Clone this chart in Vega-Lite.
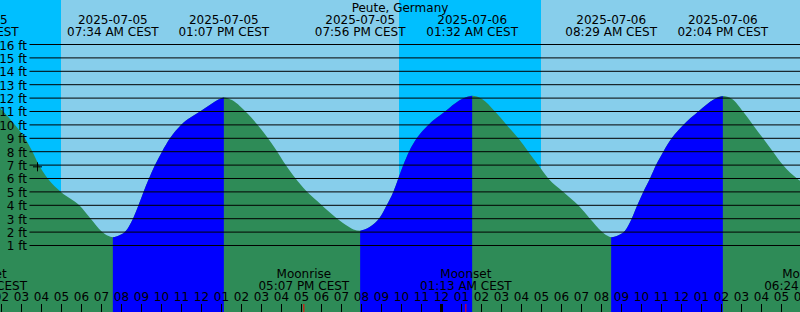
{
  "$schema": "https://vega.github.io/schema/vega-lite/v6.json",
  "width": 800,
  "height": 312,
  "autosize": {"type": "none"},
  "padding": 0,
  "background": "#87CEEB",
  "config": {"view": {"stroke": null}, "text": {"font": "DejaVu Sans", "fontSize": 12, "color": "black"}},
  "datasets": {
    "light": [
      {"start": 1.925, "end": 4.975, "phase": "night"},
      {"start": 4.975, "end": 21.875, "phase": "day"},
      {"start": 21.875, "end": 28.975, "phase": "night"},
      {"start": 28.975, "end": 41.925, "phase": "day"}
    ],
    "tide": [
      {"t": 0.575, "ft": 12.1, "phase": "high", "flood": 0},
      {"t": 1.325, "ft": 11.8, "phase": "falling", "flood": 1},
      {"t": 1.925, "ft": 11.25, "phase": "falling", "flood": 1},
      {"t": 2.09, "ft": 11, "phase": "falling", "flood": 1},
      {"t": 2.675, "ft": 10, "phase": "falling", "flood": 1},
      {"t": 3.175, "ft": 9, "phase": "falling", "flood": 1},
      {"t": 3.51, "ft": 8.1, "phase": "falling", "flood": 1},
      {"t": 3.84, "ft": 7.1, "phase": "falling", "flood": 1},
      {"t": 4.31, "ft": 6, "phase": "falling", "flood": 1},
      {"t": 4.975, "ft": 5, "phase": "falling", "flood": 1},
      {"t": 5.89, "ft": 4, "phase": "falling", "flood": 1},
      {"t": 6.46, "ft": 3, "phase": "falling", "flood": 1},
      {"t": 7.01, "ft": 2.05, "phase": "falling", "flood": 1},
      {"t": 7.325, "ft": 1.72, "phase": "falling", "flood": 1},
      {"t": 7.567, "ft": 1.61, "phase": "low", "flood": 1},
      {"t": 7.925, "ft": 1.78, "phase": "rising", "flood": 1},
      {"t": 8.225, "ft": 2.1, "phase": "rising", "flood": 1},
      {"t": 8.575, "ft": 3, "phase": "rising", "flood": 1},
      {"t": 8.85, "ft": 4, "phase": "rising", "flood": 1},
      {"t": 9.1, "ft": 5, "phase": "rising", "flood": 1},
      {"t": 9.375, "ft": 6, "phase": "rising", "flood": 1},
      {"t": 9.675, "ft": 7, "phase": "rising", "flood": 1},
      {"t": 10.025, "ft": 8, "phase": "rising", "flood": 1},
      {"t": 10.425, "ft": 9, "phase": "rising", "flood": 1},
      {"t": 10.975, "ft": 10, "phase": "rising", "flood": 1},
      {"t": 11.925, "ft": 11, "phase": "rising", "flood": 1},
      {"t": 12.525, "ft": 11.6, "phase": "rising", "flood": 1},
      {"t": 12.825, "ft": 11.88, "phase": "rising", "flood": 1},
      {"t": 13.117, "ft": 12.05, "phase": "high", "flood": 1},
      {"t": 13.525, "ft": 11.85, "phase": "falling", "flood": 2},
      {"t": 13.925, "ft": 11.4, "phase": "falling", "flood": 2},
      {"t": 14.3, "ft": 10.85, "phase": "falling", "flood": 2},
      {"t": 14.775, "ft": 10.05, "phase": "falling", "flood": 2},
      {"t": 15.25, "ft": 9.15, "phase": "falling", "flood": 2},
      {"t": 15.7, "ft": 8.2, "phase": "falling", "flood": 2},
      {"t": 16.1, "ft": 7.25, "phase": "falling", "flood": 2},
      {"t": 16.55, "ft": 6.3, "phase": "falling", "flood": 2},
      {"t": 17.1, "ft": 5.3, "phase": "falling", "flood": 2},
      {"t": 17.8, "ft": 4.3, "phase": "falling", "flood": 2},
      {"t": 18.55, "ft": 3.3, "phase": "falling", "flood": 2},
      {"t": 19.2, "ft": 2.55, "phase": "falling", "flood": 2},
      {"t": 19.6, "ft": 2.2, "phase": "falling", "flood": 2},
      {"t": 19.933, "ft": 2.1, "phase": "low", "flood": 2},
      {"t": 20.425, "ft": 2.4, "phase": "rising", "flood": 2},
      {"t": 20.925, "ft": 3.1, "phase": "rising", "flood": 2},
      {"t": 21.26, "ft": 4, "phase": "rising", "flood": 2},
      {"t": 21.59, "ft": 5, "phase": "rising", "flood": 2},
      {"t": 21.84, "ft": 6, "phase": "rising", "flood": 2},
      {"t": 22.09, "ft": 7, "phase": "rising", "flood": 2},
      {"t": 22.375, "ft": 8, "phase": "rising", "flood": 2},
      {"t": 22.76, "ft": 9, "phase": "rising", "flood": 2},
      {"t": 23.34, "ft": 10, "phase": "rising", "flood": 2},
      {"t": 24.175, "ft": 11, "phase": "rising", "flood": 2},
      {"t": 24.675, "ft": 11.6, "phase": "rising", "flood": 2},
      {"t": 25.09, "ft": 11.98, "phase": "rising", "flood": 2},
      {"t": 25.533, "ft": 12.18, "phase": "high", "flood": 2},
      {"t": 26.01, "ft": 11.95, "phase": "falling", "flood": 3},
      {"t": 26.675, "ft": 11, "phase": "falling", "flood": 3},
      {"t": 27.26, "ft": 10, "phase": "falling", "flood": 3},
      {"t": 27.84, "ft": 9, "phase": "falling", "flood": 3},
      {"t": 28.34, "ft": 8, "phase": "falling", "flood": 3},
      {"t": 28.84, "ft": 7, "phase": "falling", "flood": 3},
      {"t": 29.34, "ft": 6, "phase": "falling", "flood": 3},
      {"t": 30.09, "ft": 5, "phase": "falling", "flood": 3},
      {"t": 30.84, "ft": 4, "phase": "falling", "flood": 3},
      {"t": 31.425, "ft": 3, "phase": "falling", "flood": 3},
      {"t": 32.01, "ft": 2.05, "phase": "falling", "flood": 3},
      {"t": 32.3, "ft": 1.72, "phase": "falling", "flood": 3},
      {"t": 32.483, "ft": 1.61, "phase": "low", "flood": 3},
      {"t": 32.9, "ft": 1.8, "phase": "rising", "flood": 3},
      {"t": 33.175, "ft": 2.1, "phase": "rising", "flood": 3},
      {"t": 33.51, "ft": 3, "phase": "rising", "flood": 3},
      {"t": 33.79, "ft": 4, "phase": "rising", "flood": 3},
      {"t": 34.09, "ft": 5, "phase": "rising", "flood": 3},
      {"t": 34.425, "ft": 6, "phase": "rising", "flood": 3},
      {"t": 34.725, "ft": 7, "phase": "rising", "flood": 3},
      {"t": 35.09, "ft": 8, "phase": "rising", "flood": 3},
      {"t": 35.51, "ft": 9, "phase": "rising", "flood": 3},
      {"t": 36.09, "ft": 10, "phase": "rising", "flood": 3},
      {"t": 36.84, "ft": 11, "phase": "rising", "flood": 3},
      {"t": 37.275, "ft": 11.55, "phase": "rising", "flood": 3},
      {"t": 37.59, "ft": 11.88, "phase": "rising", "flood": 3},
      {"t": 38.067, "ft": 12.15, "phase": "high", "flood": 3},
      {"t": 38.51, "ft": 11.95, "phase": "falling", "flood": 4},
      {"t": 39.075, "ft": 11, "phase": "falling", "flood": 4},
      {"t": 39.575, "ft": 10, "phase": "falling", "flood": 4},
      {"t": 40.075, "ft": 9, "phase": "falling", "flood": 4},
      {"t": 40.575, "ft": 8, "phase": "falling", "flood": 4},
      {"t": 41.075, "ft": 7, "phase": "falling", "flood": 4},
      {"t": 41.775, "ft": 6, "phase": "falling", "flood": 4},
      {"t": 42.425, "ft": 5.4, "phase": "falling", "flood": 4}
    ],
    "levels": [
      {"ft": 1, "label": "1 ft"}, {"ft": 2, "label": "2 ft"}, {"ft": 3, "label": "3 ft"}, {"ft": 4, "label": "4 ft"},
      {"ft": 5, "label": "5 ft"}, {"ft": 6, "label": "6 ft"}, {"ft": 7, "label": "7 ft"}, {"ft": 8, "label": "8 ft"},
      {"ft": 9, "label": "9 ft"}, {"ft": 10, "label": "10 ft"}, {"ft": 11, "label": "11 ft"}, {"ft": 12, "label": "12 ft"},
      {"ft": 13, "label": "13 ft"}, {"ft": 14, "label": "14 ft"}, {"ft": 15, "label": "15 ft"}, {"ft": 16, "label": "16 ft"}
    ],
    "hours": [
      {"t": 2, "label": "02"}, {"t": 3, "label": "03"}, {"t": 4, "label": "04"}, {"t": 5, "label": "05"},
      {"t": 6, "label": "06"}, {"t": 7, "label": "07"}, {"t": 8, "label": "08"}, {"t": 9, "label": "09"},
      {"t": 10, "label": "10"}, {"t": 11, "label": "11"}, {"t": 12, "label": "12"}, {"t": 13, "label": "01"},
      {"t": 14, "label": "02"}, {"t": 15, "label": "03"}, {"t": 16, "label": "04"}, {"t": 17, "label": "05"},
      {"t": 18, "label": "06"}, {"t": 19, "label": "07"}, {"t": 20, "label": "08"}, {"t": 21, "label": "09"},
      {"t": 22, "label": "10"}, {"t": 23, "label": "11"}, {"t": 24, "label": "12"}, {"t": 25, "label": "01"},
      {"t": 26, "label": "02"}, {"t": 27, "label": "03"}, {"t": 28, "label": "04"}, {"t": 29, "label": "05"},
      {"t": 30, "label": "06"}, {"t": 31, "label": "07"}, {"t": 32, "label": "08"}, {"t": 33, "label": "09"},
      {"t": 34, "label": "10"}, {"t": 35, "label": "11"}, {"t": 36, "label": "12"}, {"t": 37, "label": "01"},
      {"t": 38, "label": "02"}, {"t": 39, "label": "03"}, {"t": 40, "label": "04"}, {"t": 41, "label": "05"},
      {"t": 42, "label": "06"}
    ],
    "extremes": [
      {"t": 0.567, "label": "2025-07-05\n12:34 AM CEST"},
      {"t": 7.567, "label": "2025-07-05\n07:34 AM CEST"},
      {"t": 13.117, "label": "2025-07-05\n01:07 PM CEST"},
      {"t": 19.933, "label": "2025-07-05\n07:56 PM CEST"},
      {"t": 25.533, "label": "2025-07-06\n01:32 AM CEST"},
      {"t": 32.483, "label": "2025-07-06\n08:29 AM CEST"},
      {"t": 38.067, "label": "2025-07-06\n02:04 PM CEST"}
    ],
    "moon": [
      {"t": 0.983, "label": "Moonset\n12:59 AM CEST"},
      {"t": 17.117, "label": "Moonrise\n05:07 PM CEST"},
      {"t": 25.217, "label": "Moonset\n01:13 AM CEST"},
      {"t": 42.4, "label": "Moonrise\n06:24 PM CEST"}
    ],
    "midnight": [{"t": 24}],
    "now": [{"t": 3.8, "ft": 6.87}],
    "station": [{"t": 21.925, "label": "Peute, Germany"}]
  },
  "layer": [
    {
      "data": {"name": "light"},
      "mark": {"type": "rect"},
      "encoding": {
        "x": {"field": "start", "type": "quantitative", "scale": {"domain": [1.925, 41.925], "nice": false, "zero": false}, "axis": null},
        "x2": {"field": "end"},
        "color": {"field": "phase", "type": "nominal", "scale": {"domain": ["day", "night"], "range": ["#87CEEB", "#00BFFF"]}, "legend": null}
      }
    },
    {
      "data": {"name": "tide"},
      "mark": {"type": "area", "interpolate": "monotone", "color": "#2E8B57", "clip": true},
      "encoding": {
        "x": {"field": "t", "type": "quantitative", "scale": {"domain": [1.925, 41.925], "nice": false, "zero": false},
          "axis": {"labels": false, "ticks": false, "domain": false, "grid": false, "title": null}},
        "y": {"field": "ft", "type": "quantitative", "stack": null, "scale": {"domain": [-3.963, 19.321], "nice": false, "zero": false},
          "axis": {"labels": false, "ticks": false, "domain": false, "grid": false, "title": null}},
        "y2": {"datum": -3.963}
      }
    },
    {
      "data": {"name": "tide"},
      "transform": [{"filter": "datum.phase != 'falling'"}],
      "mark": {"type": "area", "interpolate": "monotone", "color": "#0000FF", "clip": true},
      "encoding": {
        "x": {"field": "t", "type": "quantitative", "scale": {"domain": [1.925, 41.925], "nice": false, "zero": false}, "axis": null},
        "y": {"field": "ft", "type": "quantitative", "stack": null, "scale": {"domain": [-3.963, 19.321], "nice": false, "zero": false}, "axis": null},
        "y2": {"datum": -3.963},
        "detail": {"field": "flood", "type": "nominal"}
      }
    },
    {
      "data": {"name": "levels"},
      "mark": {"type": "rule", "color": "black", "strokeWidth": 1},
      "encoding": {
        "y": {"field": "ft", "type": "quantitative", "scale": {"domain": [-3.963, 19.321], "nice": false, "zero": false}, "axis": null},
        "x": {"datum": 3.4, "type": "quantitative"},
        "x2": {"datum": 41.925}
      }
    },
    {
      "data": {"name": "levels"},
      "mark": {"type": "text", "align": "right", "baseline": "alphabetic", "dy": 5, "font": "DejaVu Sans", "fontSize": 12, "color": "black"},
      "encoding": {
        "y": {"field": "ft", "type": "quantitative", "scale": {"domain": [-3.963, 19.321], "nice": false, "zero": false}, "axis": null},
        "x": {"datum": 3.275, "type": "quantitative"},
        "text": {"field": "label"}
      }
    },
    {
      "data": {"name": "now"},
      "mark": {"type": "point", "shape": "M-1,0L1,0M0,-1L0,1", "size": 81, "filled": false, "stroke": "black", "strokeWidth": 1, "opacity": 1},
      "encoding": {
        "x": {"field": "t", "type": "quantitative", "scale": {"domain": [1.925, 41.925], "nice": false, "zero": false}, "axis": null},
        "y": {"field": "ft", "type": "quantitative", "scale": {"domain": [-3.963, 19.321], "nice": false, "zero": false}, "axis": null}
      }
    },
    {
      "data": {"name": "station"},
      "mark": {"type": "text", "align": "center", "baseline": "alphabetic", "font": "DejaVu Sans", "fontSize": 12, "color": "black"},
      "encoding": {
        "x": {"field": "t", "type": "quantitative", "scale": {"domain": [1.925, 41.925], "nice": false, "zero": false}, "axis": null},
        "y": {"datum": 18.448, "type": "quantitative"},
        "text": {"field": "label"}
      }
    },
    {
      "data": {"name": "extremes"},
      "mark": {"type": "text", "align": "center", "baseline": "alphabetic", "lineBreak": "\n", "lineHeight": 12, "font": "DejaVu Sans", "fontSize": 12, "color": "black"},
      "encoding": {
        "x": {"field": "t", "type": "quantitative", "scale": {"domain": [1.925, 41.925], "nice": false, "zero": false}, "axis": null},
        "y": {"datum": 17.53, "type": "quantitative"},
        "text": {"field": "label"}
      }
    },
    {
      "data": {"name": "moon"},
      "mark": {"type": "text", "align": "center", "baseline": "alphabetic", "lineBreak": "\n", "lineHeight": 12, "font": "DejaVu Sans", "fontSize": 12, "color": "black"},
      "encoding": {
        "x": {"field": "t", "type": "quantitative", "scale": {"domain": [1.925, 41.925], "nice": false, "zero": false}, "axis": null},
        "y": {"datum": -1.425, "type": "quantitative"},
        "text": {"field": "label"}
      }
    },
    {
      "data": {"name": "hours"},
      "mark": {"type": "text", "align": "center", "baseline": "alphabetic", "font": "DejaVu Sans", "fontSize": 12, "color": "black"},
      "encoding": {
        "x": {"field": "t", "type": "quantitative", "scale": {"domain": [1.925, 41.925], "nice": false, "zero": false}, "axis": null},
        "y": {"datum": -3.119, "type": "quantitative"},
        "text": {"field": "label"}
      }
    },
    {
      "data": {"name": "hours"},
      "mark": {"type": "rule", "color": "black", "strokeWidth": 1},
      "encoding": {
        "x": {"field": "t", "type": "quantitative", "scale": {"domain": [1.925, 41.925], "nice": false, "zero": false}, "axis": null},
        "y": {"datum": -3.367, "type": "quantitative"},
        "y2": {"datum": -3.963}
      }
    },
    {
      "data": {"name": "moon"},
      "mark": {"type": "rule", "color": "#FF0000", "strokeWidth": 1},
      "encoding": {
        "x": {"field": "t", "type": "quantitative", "scale": {"domain": [1.925, 41.925], "nice": false, "zero": false}, "axis": null},
        "y": {"datum": -3.367, "type": "quantitative"},
        "y2": {"datum": -3.963}
      }
    },
    {
      "data": {"name": "midnight"},
      "mark": {"type": "rule", "color": "black", "strokeWidth": 3},
      "encoding": {
        "x": {"field": "t", "type": "quantitative", "scale": {"domain": [1.925, 41.925], "nice": false, "zero": false}, "axis": null},
        "y": {"datum": -3.367, "type": "quantitative"},
        "y2": {"datum": -3.963}
      }
    }
  ]
}
